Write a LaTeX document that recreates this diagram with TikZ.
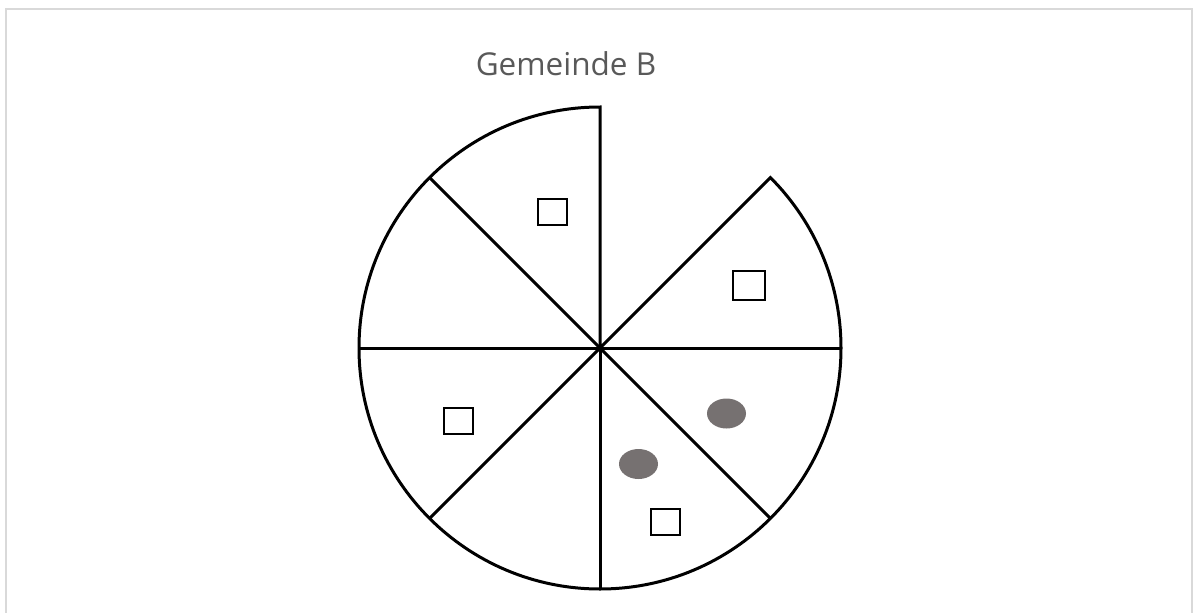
\documentclass[tikz,border=0pt]{standalone}
\usepackage{fontspec}
\setmainfont{Open Sans}
\usetikzlibrary{calc,shapes.geometric}
\definecolor{dotgray}{HTML}{767171}
\definecolor{titlegray}{HTML}{595959}
\begin{document}
\begin{tikzpicture}[x=1pt,y=-1pt,
  frame/.style={draw=black!15,line width=2pt},
  piece/.style={draw=black,line width=3pt,line join=miter},
  box/.style={draw=black,line width=2pt,fill=white,minimum width=29pt,minimum height=26pt,inner sep=0pt},
  dot/.style={fill=dotgray,draw=none,ellipse,minimum width=39pt,minimum height=30pt,inner sep=0pt},
  title/.style={text=titlegray,font=\fontsize{31.5}{36}\selectfont,inner sep=0pt}]
\useasboundingbox (0,0) rectangle (1195,613);
% frame (open at the bottom)
\coordinate (fbl) at (6,613);
\coordinate (ftl) at (6,8.7);
\coordinate (ftr) at (1192,8.7);
\coordinate (fbr) at (1192,613);
\draw[frame] (fbl) -- (ftl) -- (ftr) -- (fbr);
% title
\node[title,anchor=base] (t) at (566,75) {Gemeinde B};
% pie
\coordinate (c) at (600,348);
\foreach \a in {0,45,...,315} {
  \coordinate (r\a) at ($(c)+(\a:241pt)$);
}
\draw[piece] (c) -- (r90) arc[start angle=90,end angle=405,radius=241pt] -- cycle;
\foreach \a in {0,135,180,225,270,315} {
  \draw[piece] (c) -- (r\a);
}
% marks
\node[box] (b1) at (552,212) {};
\node[box,minimum width=32pt,minimum height=29pt] (b2) at (749,285) {};
\node[box] (b3) at (458,421) {};
\node[box] (b4) at (665,522) {};
\node[dot] (d1) at (726.5,413.5) {};
\node[dot] (d2) at (638.5,464) {};
\end{tikzpicture}
\end{document}
